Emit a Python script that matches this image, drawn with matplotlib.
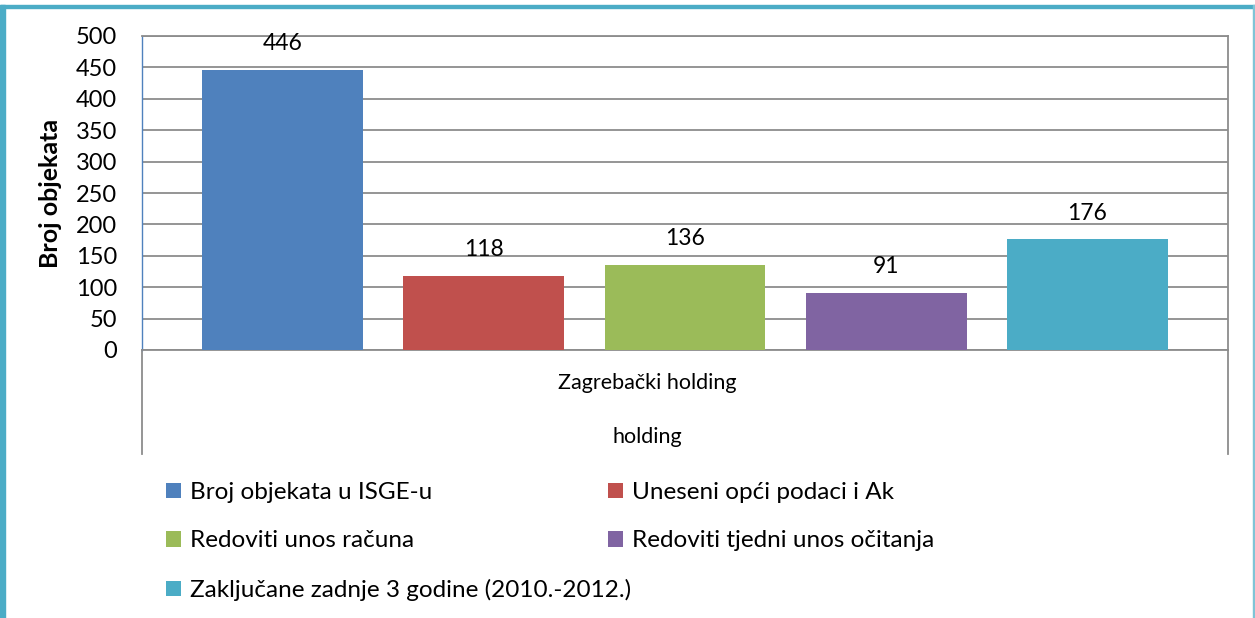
import matplotlib
matplotlib.use("Agg")
import matplotlib.pyplot as plt
from matplotlib.patches import Rectangle

# === podaci ===
series = ["Broj objekata u ISGE-u", "Uneseni opći podaci i Ak",
          "Redoviti unos računa", "Redoviti tjedni unos očitanja",
          "Zaključane zadnje 3 godine (2010.-2012.)"]
values = [446, 118, 136, 91, 176]
colors = ["#4F81BD", "#C0504D", "#9BBB59", "#8064A2", "#4BACC6"]
yticks = list(range(0, 501, 50))

plt.rcParams["font.family"] = ["Lato", "DejaVu Sans"]
FS_TICK = 17
FS_LAB = 16.5
FS_LEG = 17.5
FS_CAT = 15.5

W, H = 1255, 618
fig = plt.figure(figsize=(W / 100, H / 100), dpi=100)
ax = fig.add_axes([142 / W, 1 - 350 / H, (1228 - 142) / W, (350 - 36) / H])

pos = list(range(len(values)))
bars = ax.bar(pos, values, width=0.8, color=colors, zorder=3)
for b, v in zip(bars, values):
    ax.annotate(str(v), (b.get_x() + b.get_width() / 2, v), xytext=(0, 19),
                textcoords="offset points", ha="center", va="center", fontsize=FS_LAB)

ax.set_xlim(-0.7, len(values) - 0.3)
ax.set_ylim(0, 500)
ax.set_yticks(yticks)
ax.set_xticks([])
ax.tick_params(axis="y", length=0, labelsize=FS_TICK, pad=18)
ax.grid(axis="y", color="#8C8C8C", linewidth=1.3, zorder=0)
ax.set_ylabel("Broj objekata", fontsize=18, fontweight="bold", labelpad=10)

for s in ["top", "right", "bottom"]:
    ax.spines[s].set_color("#8C8C8C")
    ax.spines[s].set_linewidth(1.3)
ax.spines["left"].set_color("#4F81BD")
ax.spines["left"].set_linewidth(1.0)

# produžene linije osi kategorija
for xx in [0, 1]:
    ax.plot([xx, xx], [0, -0.33], transform=ax.transAxes, clip_on=False,
            color="#8C8C8C", linewidth=1.3)

fig.text(647 / W, 1 - 383 / H, "Zagrebački holding", ha="center", va="center", fontsize=FS_CAT)
fig.text(647 / W, 1 - 437 / H, "holding", ha="center", va="center", fontsize=FS_CAT)

# legenda u dva stupca
h = list(bars)
leg_kw = dict(loc="upper left", frameon=False, fontsize=FS_LEG, handlelength=0.62,
              handleheight=0.62, handletextpad=0.35, labelspacing=1.13,
              borderaxespad=0, borderpad=0)
fig.legend([h[0], h[2], h[4]], [series[0], series[2], series[4]],
           bbox_to_anchor=(166 / W, 1 - 482 / H), **leg_kw)
fig.legend([h[1], h[3]], [series[1], series[3]],
           bbox_to_anchor=(608 / W, 1 - 482 / H), **leg_kw)

# okvir slike
fig.patches.append(Rectangle((0, 0), 5 / W, 1 - 5 / H, transform=fig.transFigure,
                             color="#4BACC6", zorder=0))
fig.patches.append(Rectangle((0, 1 - 8 / H), 1, 3 / H, transform=fig.transFigure,
                             color="#4BACC6", zorder=0))
fig.patches.append(Rectangle((1 - 2 / W, 0), 2 / W, 1 - 5 / H, transform=fig.transFigure,
                             color="#7FC4D6", zorder=0))

fig.savefig("out.png", dpi=100)
